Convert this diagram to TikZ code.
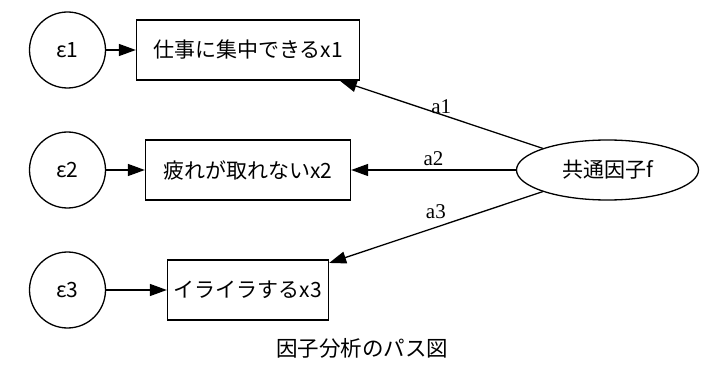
\documentclass[tikz,border=0pt]{standalone}
\usepackage{fontspec}
\setmainfont{Noto Sans CJK JP}
\newfontfamily\coeffont{Liberation Serif}
\usetikzlibrary{arrows.meta,shapes.geometric}

\begin{document}
\begin{tikzpicture}[x=1pt, y=-1pt, line width=1.3pt,
    >={Triangle[length=17pt,width=12pt]},
    errnode/.style={circle, draw, minimum size=76pt, inner sep=0pt,
        font=\fontsize{21}{25}\selectfont},
    obsnode/.style={rectangle, draw, minimum height=60pt, inner sep=0pt,
        font=\fontsize{21}{25}\selectfont},
    latnode/.style={ellipse, draw, minimum width=182pt, minimum height=60pt,
        inner sep=0pt, font=\fontsize{21}{25}\selectfont},
    coef/.style={font=\coeffont\fontsize{21}{25}\selectfont, inner sep=0pt}]
    \useasboundingbox (0,0) rectangle (720,374);

    % Error terms
    \node[errnode] (e1) at (67.5,50) {ε1};
    \node[errnode] (e2) at (67.5,170) {ε2};
    \node[errnode] (e3) at (67.5,290) {ε3};

    % Observed variables
    \node[obsnode, minimum width=223pt] (x1) at (248,50) {仕事に集中できるx1};
    \node[obsnode, minimum width=205pt] (x2) at (248,170) {疲れが取れないx2};
    \node[obsnode, minimum width=161pt] (x3) at (248,290) {イライラするx3};

    % Common factor
    \node[latnode] (f) at (607.5,170) {共通因子f};

    % Error paths
    \draw[->] (e1) -- (x1);
    \draw[->] (e2) -- (x2);
    \draw[->] (e3) -- (x3);

    % Loadings $a_1$, $a_2$, $a_3$
    \draw[->] (f) -- node[coef, pos=0.5, above=0pt] {a1} (x1);
    \draw[->] (f) -- node[coef, pos=0.5, above=4pt] {a2} (x2);
    \draw[->] (f) -- node[coef, pos=0.5, above=8pt] {a3} (x3);

    % Caption
    \node[font=\fontsize{21.5}{26}\selectfont] (cap) at (362,348) {因子分析のパス図};
\end{tikzpicture}
\end{document}
